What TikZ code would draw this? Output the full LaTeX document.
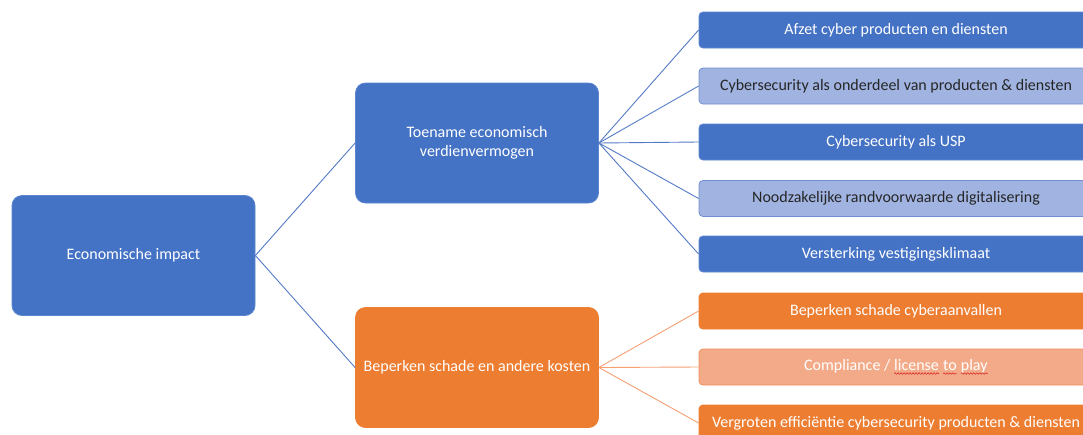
\documentclass[tikz,border=0pt]{standalone}
\usepackage{fontspec}
\setmainfont{Carlito}
\usetikzlibrary{decorations.pathmorphing}

\definecolor{accBlue}{RGB}{68,114,196}
\definecolor{accBlueEdge}{RGB}{92,134,208}
\definecolor{accOrange}{RGB}{237,125,49}
\definecolor{paleBlue}{RGB}{160,179,225}
\definecolor{paleBlueEdge}{RGB}{112,143,208}
\definecolor{paleOrange}{RGB}{243,170,136}
\definecolor{paleOrangeEdge}{RGB}{240,140,90}
\definecolor{lineBlue}{RGB}{84,122,198}
\definecolor{lineOrange}{RGB}{244,160,115}
\definecolor{spellRed}{RGB}{214,40,40}

% wavy red underline as set by a spell checker
\newcommand{\spellmark}[1]{\tikz[baseline=(sw.base)]{%
  \node[inner sep=0pt,outer sep=0pt,minimum width=0pt,minimum height=0pt,
        draw=none,fill=none,rounded corners=0pt] (sw) {#1};
  \draw[spellRed,line width=0.55pt,rounded corners=0pt,decorate,
        decoration={snake,amplitude=0.8pt,segment length=3pt}]
    ([yshift=-3pt]sw.base west) -- ([yshift=-3pt]sw.base east);}}

\tikzset{
  txt/.style={font=\fontsize{16}{19}\selectfont, align=center, inner sep=2pt},
  bigbox/.style={txt, rounded corners=10pt, minimum width=243pt, minimum height=120pt,
                 line width=0.8pt},
  leafbox/.style={txt, rounded corners=4pt, minimum width=394pt, minimum height=36pt,
                  line width=0.8pt},
  blueBig/.style={bigbox, fill=accBlue, draw=accBlueEdge, text=white},
  orangeBig/.style={bigbox, fill=accOrange, draw=accOrange, text=white},
  blueLeaf/.style={leafbox, fill=accBlue, draw=accBlueEdge, text=white},
  paleBlueLeaf/.style={leafbox, fill=paleBlue, draw=paleBlueEdge, text=black!85},
  orangeLeaf/.style={leafbox, fill=accOrange, draw=accOrange, text=white},
  paleOrangeLeaf/.style={leafbox, fill=paleOrange, draw=paleOrangeEdge, text=white},
  blueLink/.style={draw=lineBlue, line width=0.9pt},
  orangeLink/.style={draw=lineOrange, line width=0.9pt},
}

\begin{document}
\begin{tikzpicture}[x=1pt,y=-1pt]
\useasboundingbox (0,0) rectangle (1083,434);
\begin{scope}
\clip (0,0) rectangle (1083,434);

% root and the two branches
\node[blueBig] (root) at (133.5,255.5) {Economische impact};
\node[blueBig] (earn) at (477,143) {Toename economisch\\verdienvermogen};
\node[orangeBig] (cost) at (477,367.5) {Beperken schade en andere kosten};

% leaves of the blue branch
\node[blueLeaf]     (b1) at (896,30)  {Afzet cyber producten en diensten};
\node[paleBlueLeaf] (b2) at (896,86)  {Cybersecurity als onderdeel van producten \& diensten};
\node[blueLeaf]     (b3) at (896,142) {Cybersecurity als USP};
\node[paleBlueLeaf] (b4) at (896,198.5) {Noodzakelijke randvoorwaarde digitalisering};
\node[blueLeaf]     (b5) at (896,254) {Versterking vestigingsklimaat};

% leaves of the orange branch
\node[orangeLeaf]     (o1) at (896,311) {Beperken schade cyberaanvallen};
\node[paleOrangeLeaf] (o2) at (896,367) {Compliance / \spellmark{license} \spellmark{to} \spellmark{play}};
\node[orangeLeaf]     (o3) at (896,423) {Vergroten effici\"entie cybersecurity producten \& diensten};

% connectors
\draw[blueLink] (root.east) -- (earn.west);
\draw[blueLink] (root.east) -- (cost.west);
\foreach \leaf in {b1,b2,b3,b4,b5}
  \draw[blueLink] (earn.east) -- (\leaf.west);
\foreach \leaf in {o1,o2,o3}
  \draw[orangeLink] (cost.east) -- (\leaf.west);
\end{scope}
\end{tikzpicture}
\end{document}
